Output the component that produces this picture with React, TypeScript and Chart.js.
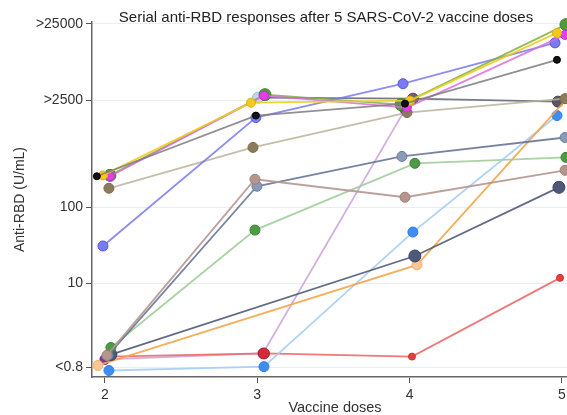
import React, { useEffect, useRef } from 'react';
import { Chart, registerables } from 'chart.js';

Chart.register(...registerables);

const chartTitle = 'Serial anti-RBD responses after 5 SARS-CoV-2 vaccine doses';
const xTitle = 'Vaccine doses';
const yTitle = 'Anti-RBD (U/mL)';

const doseTicks = [2, 3, 4, 5];
const yTickValues = [0.8, 10, 100, 2500, 25000];
const yTickLabels = ['<0.8', '10', '100', '>2500', '>25000'];

// Per participant: dose (jittered as in the figure) and anti-RBD value (null = no sample)
const blackX = [1.947, 2.991, 3.97, 4.968];
const blackY = [254, 1582, 2268, 8490];
const yellowX = [1.987, 2.959, 4.003, 4.968];
const yellowY = [261, 2336, 2481, 19090];
const greenX = [2.033, 3.051, 3.944, 5.027];
const greenY = [261, 2971, 2201, 24500];
const magentaX = [2.033, 3.044, 3.983, 5.021];
const magentaY = [254, 2883, 2011, 17970];
const violetX = [1.987, 2.991, 3.957, 4.955];
const violetY = [31.1, 1490, 4133, 14140];
const tanX = [2.026, 2.972, 3.983, 5.021];
const tanY = [177, 606, 1731, 2635];
const rosyX = [2.013, 2.985, 3.97, 5.021];
const rosyY = [1.15, 232, 135, 304];
const slateX = [2.02, 2.998, 3.95, 5.021];
const slateY = [1.15, 188, 462, 817];
const lightGreenX = [2.039, 2.985, 4.035, 5.027];
const lightGreenY = [1.46, 50.2, 375, 449];
const navyX = [2.039, 3.0, 4.035, 4.981];
const navyY: (number | null)[] = [1.18, null, 23.0, 182];
const orangeX = [1.954, 3.0, 4.049, 5.034];
const orangeY: (number | null)[] = [0.85, null, 17.6, 2635];
const lightBlueX = [2.026, 3.044, 4.022, 4.968];
const lightBlueY = [0.73, 0.82, 47.3, 1582];
const redX = [2.026, 3.044, 4.016, 4.988];
const redY = [1.11, 1.22, 1.11, 11.9];
const purpleX = [2.0, 3.037, 3.97, 5.0];
const purpleY: (number | null)[] = [1.02, 1.22, 1894, null];
const darkGrayX = [2.0, 3.005, 4.022, 4.974];
const darkGrayY: (number | null)[] = [null, 2715, 2635, 2408];

type Style = { line: string; fill: string | string[]; border: string | string[]; r: number | number[] };

const series: { xs: number[]; ys: (number | null)[]; s: Style }[] = [
  { xs: blackX, ys: blackY, s: { line: 'rgba(125,125,125,0.85)', fill: '#111111', border: '#000000', r: 3.5 } },
  { xs: yellowX, ys: yellowY, s: { line: 'rgba(240,205,30,0.9)', fill: '#f4c81c', border: '#e0b010', r: 4.5 } },
  { xs: magentaX, ys: magentaY, s: { line: 'rgba(215,110,220,0.85)', fill: '#e43ee8', border: '#c030d0', r: 4.5 } },
  { xs: greenX, ys: greenY, s: { line: 'rgba(130,175,60,0.85)', fill: '#4f9a3c', border: '#3c8030', r: 6 } },
  { xs: violetX, ys: violetY, s: { line: 'rgba(120,120,240,0.85)', fill: '#7a7af2', border: '#5555e0', r: 5 } },
  { xs: tanX, ys: tanY, s: { line: 'rgba(185,178,155,0.85)', fill: '#8c7c5c', border: '#7a6a4c', r: 5 } },
  { xs: rosyX, ys: rosyY, s: { line: 'rgba(180,150,142,0.9)', fill: '#b4968e', border: '#a08078', r: 5 } },
  { xs: slateX, ys: slateY, s: { line: 'rgba(95,110,145,0.85)', fill: '#8a9ab8', border: '#6a7a9a', r: 5 } },
  { xs: lightGreenX, ys: lightGreenY, s: { line: 'rgba(160,205,155,0.9)', fill: '#4f9a45', border: '#3d8036', r: 5 } },
  { xs: navyX, ys: navyY, s: { line: 'rgba(80,90,120,0.9)', fill: '#4e5878', border: '#3a4460', r: 6 } },
  { xs: orangeX, ys: orangeY, s: { line: 'rgba(243,165,74,0.9)', fill: '#f8c890', border: '#f0b070', r: 5 } },
  { xs: lightBlueX, ys: lightBlueY, s: { line: 'rgba(165,205,245,0.9)', fill: '#3d8ef0', border: '#2f7ee0', r: 5 } },
  { xs: redX, ys: redY, s: { line: 'rgba(236,105,105,0.9)', fill: ['#d42a3a', '#d42a3a', '#e04040', '#e04040'], border: ['#b81e2e', '#b81e2e', '#d03030', '#d03030'], r: [5, 5.5, 3.5, 3.5] } },
  { xs: purpleX, ys: purpleY, s: { line: 'rgba(205,165,220,0.9)', fill: '#7a3a9c', border: '#682a8a', r: 5 } },
  { xs: darkGrayX, ys: darkGrayY, s: { line: 'rgba(105,108,122,0.9)', fill: ['#6a5a6a', '#bcd6f2', '#7a5a72', '#5a5664'], border: ['#504050', '#9cbce0', '#5a3e52', '#44404e'], r: 5.5 } },
];

const FONT = '"Liberation Sans", Arial, sans-serif';

const titlePlugin = {
  id: 'topTitle',
  afterDraw(chart: any) {
    const { ctx } = chart;
    ctx.save();
    ctx.font = `15px ${FONT}`;
    ctx.fillStyle = '#222';
    ctx.textAlign = 'center';
    ctx.textBaseline = 'middle';
    ctx.fillText(chartTitle, 326, 18);
    ctx.restore();
  },
};

export default function App() {
  const ref = useRef<HTMLCanvasElement>(null);

  useEffect(() => {
    document.body.style.margin = '0';
    const canvas = ref.current;
    if (!canvas) return;

    const pick = (v: any, i: number) => (Array.isArray(v) ? v[i] : v);

    const datasets = series.map(({ xs, ys, s }) => {
      const idx = xs.map((_, i) => i).filter((i) => ys[i] !== null);
      return {
        data: idx.map((i) => ({ x: xs[i], y: ys[i] as number })),
        borderColor: s.line,
        borderWidth: 1.8,
        pointBackgroundColor: idx.map((i) => pick(s.fill, i)),
        pointBorderColor: idx.map((i) => pick(s.border, i)),
        pointBorderWidth: 1,
        pointRadius: idx.map((i) => pick(s.r, i)),
        tension: 0,
        fill: false,
        clip: 10,
      };
    });

    const chart = new Chart(canvas, {
      type: 'line',
      data: { datasets },
      plugins: [titlePlugin],
      options: {
        animation: false,
        responsive: false,
        devicePixelRatio: 1,
        layout: { padding: { top: 22, right: 12, left: 0, bottom: 0 } },
        plugins: { legend: { display: false }, tooltip: { enabled: false }, title: { display: false } },
        scales: {
          x: {
            type: 'linear',
            min: 1.915,
            max: 5.106,
            afterBuildTicks: (scale: any) => {
              scale.ticks = doseTicks.map((v) => ({ value: v }));
            },
            afterFit: (scale: any) => {
              scale.height = 38;
            },
            ticks: {
              autoSkip: false,
              padding: 4,
              color: '#333',
              font: { family: FONT, size: 14 },
              callback: (v: any) => String(v),
            },
            grid: { drawOnChartArea: false, drawTicks: true, tickLength: 6, tickColor: '#555', tickWidth: 1 },
            border: { display: true, color: '#666', width: 1.5 },
            title: {
              display: true,
              text: xTitle,
              color: '#333',
              font: { family: FONT, size: 14.5, lineHeight: 1 },
              padding: { top: 0, bottom: 0 },
            },
          },
          y: {
            type: 'logarithmic',
            min: 0.648,
            max: 26530,
            afterBuildTicks: (scale: any) => {
              scale.ticks = yTickValues.map((v) => ({ value: v }));
            },
            afterFit: (scale: any) => {
              scale.width = 92;
            },
            ticks: {
              autoSkip: false,
              padding: 3,
              color: '#333',
              font: { family: FONT, size: 14 },
              callback: (_v: any, i: number) => yTickLabels[i],
            },
            grid: { color: '#e9eef2', lineWidth: 1, drawTicks: true, tickLength: 6, tickColor: '#555', tickWidth: 1 },
            border: { display: true, color: '#666', width: 1.5 },
            title: {
              display: true,
              text: yTitle,
              color: '#333',
              font: { family: FONT, size: 14, lineHeight: 1 },
              padding: { top: 13, bottom: 0 },
            },
          },
        },
      },
    } as any);

    return () => chart.destroy();
  }, []);

  return (
    <div style={{ width: 567, height: 415, overflow: 'hidden', position: 'relative', background: '#fff' }}>
      <canvas ref={ref} width={590} height={415} style={{ width: 590, height: 415, display: 'block' }} />
    </div>
  );
}
